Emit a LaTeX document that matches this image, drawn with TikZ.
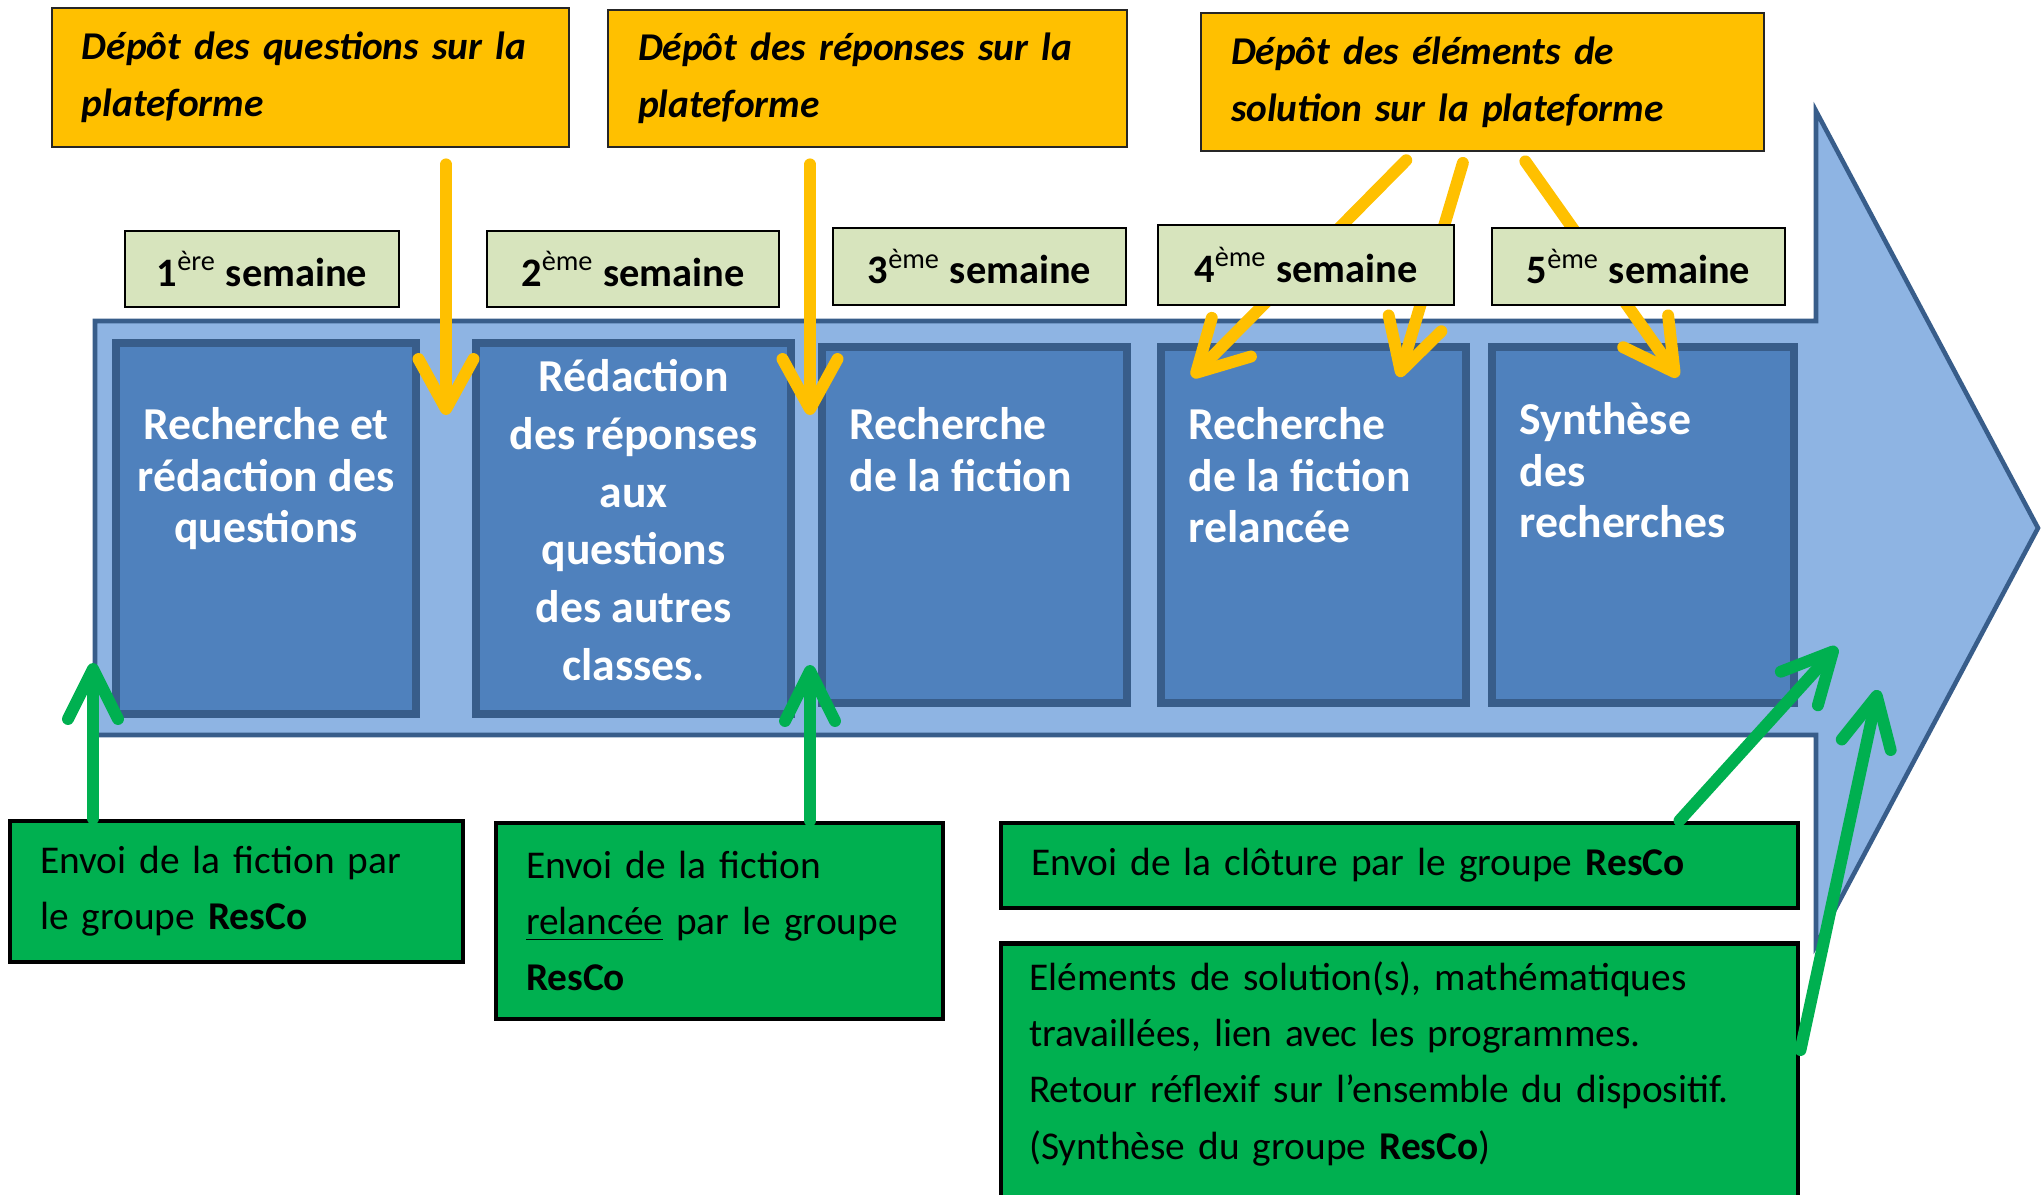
\documentclass[tikz,border=0pt]{standalone}
\usepackage{fontspec}
\setmainfont{Carlito}
\usepackage{xcolor}
\usepackage{tikz}
\usetikzlibrary{arrows.meta, positioning}
\definecolor{depotorange}{RGB}{255, 192, 0}
\definecolor{semgreen}{RGB}{215, 228, 189}
\definecolor{shaftblue}{RGB}{142, 180, 227}
\definecolor{boxblue}{RGB}{79, 129, 189}
\definecolor{edgeblue}{RGB}{56, 93, 138}
\definecolor{envoigreen}{RGB}{0, 176, 80}
\tikzset{
  fleche/.style={fill=shaftblue, draw=edgeblue, line width=1.3pt},
  depot/.style={rectangle, draw=black!85, line width=0.8pt, fill=depotorange,
    inner xsep=0.3cm, inner ysep=0pt, align=left,
    font=\fontsize{11.2}{16.2}\selectfont\bfseries\itshape},
  semaine/.style={rectangle, draw=black, line width=0.8pt, fill=semgreen,
    inner sep=0pt, font=\fontsize{11.5}{14}\selectfont\bfseries},
  etape/.style={rectangle, draw=edgeblue, line width=2.3pt, fill=boxblue,
    inner sep=0pt},
  etapetxt/.style={inner sep=0pt, text=white,
    font=\fontsize{13}{14.6}\selectfont\bfseries},
  envoi/.style={rectangle, draw=black, line width=1.4pt, fill=envoigreen,
    inner xsep=0.3cm, inner ysep=0pt, align=left,
    font=\fontsize{11.2}{16}\selectfont},
  oarrow/.style={-{Straight Barb[round, length=5mm, width=5.5mm]},
    line width=3.4pt, draw=depotorange, line cap=round},
  garrow/.style={-{Straight Barb[round, length=5mm, width=5mm]},
    line width=3.4pt, draw=envoigreen, line cap=round},
}

\begin{document}
\begin{tikzpicture}
  \useasboundingbox (0,0) rectangle (20.43,-11.94);

  % ── Big arrow ──
  \draw[fleche] (0.95,-3.21) -- (18.16,-3.21) -- (18.16,-1.11) -- (20.38,-5.28)
    -- (18.16,-9.45) -- (18.16,-7.35) -- (0.95,-7.35) -- cycle;

  % ── Steps ──
  \node[etape, minimum width=3.00cm, minimum height=3.71cm] (et1) at (2.66,-5.285) {};
  \node[etape, minimum width=3.15cm, minimum height=3.71cm] (et2) at (6.335,-5.285) {};
  \node[etape, minimum width=3.05cm, minimum height=3.56cm] (et3) at (9.745,-5.25) {};
  \node[etape, minimum width=3.05cm, minimum height=3.56cm] (et4) at (13.135,-5.25) {};
  \node[etape, minimum width=3.02cm, minimum height=3.56cm] (et5) at (16.43,-5.25) {};

  \node[etapetxt, align=center, below=0.68cm of et1.north] (txt1) {Recherche et\\rédaction des\\questions};
  \node[etapetxt, align=center, below=0.20cm of et2.north,
    font=\fontsize{13}{16.4}\selectfont\bfseries] (txt2) {Rédaction\\des réponses\\aux\\questions\\des autres\\classes.};
  \node[etapetxt, align=left, below right=0.64cm and 0.31cm of et3.north west] (txt3) {Recherche\\de la fiction};
  \node[etapetxt, align=left, below right=0.64cm and 0.31cm of et4.north west] (txt4) {Recherche\\de la fiction\\relancée};
  \node[etapetxt, align=left, below right=0.59cm and 0.31cm of et5.north west] (txt5) {Synthèse\\des\\recherches};

  % ── Arrow ends ──
  \coordinate (q1) at (4.46,-4.15);
  \coordinate (q2) at (8.10,-4.15);
  \coordinate (q3) at (11.92,-3.77);
  \coordinate (q4) at (13.99,-3.77);
  \coordinate (q5) at (16.78,-3.77);
  \coordinate (up1) at (0.93,-6.63);
  \coordinate (up2) at (8.10,-6.65);
  \coordinate (up3) at (18.37,-6.47);
  \coordinate (up4) at (18.78,-6.90);

  % ── Deposit boxes ──
  \node[depot, text width=4.57cm, minimum height=1.39cm] (depotQ) at (3.105,-0.775) {Dépôt des questions sur la\\plateforme};
  \node[depot, text width=4.59cm, minimum height=1.37cm] (depotR) at (8.675,-0.785) {Dépôt des réponses sur la\\plateforme};
  \node[depot, text width=5.03cm, minimum height=1.38cm] (depotS) at (14.825,-0.82) {Dépôt des éléments de\\solution sur la plateforme};

  % ── Orange arrows ──
  \draw[oarrow, shorten <=1.6mm] (depotQ.south -| q1) -- (q1);
  \draw[oarrow, shorten <=1.6mm] (depotR.south -| q2) -- (q2);
  \draw[oarrow, shorten <=1.1mm] ([xshift=-6.85mm]depotS.south) -- (q3);
  \draw[oarrow, shorten <=1.1mm] ([xshift=-1.65mm]depotS.south) -- (q4);
  \draw[oarrow, shorten <=1.1mm] ([xshift=3.65mm]depotS.south) -- (q5);

  % ── Weeks ──
  \node[semaine, minimum width=2.74cm, minimum height=0.76cm] (sem1) at (2.62,-2.69) {1\textsuperscript{\mdseries ère} semaine};
  \node[semaine, minimum width=2.92cm, minimum height=0.76cm] (sem2) at (6.33,-2.69) {2\textsuperscript{\mdseries ème} semaine};
  \node[semaine, minimum width=2.93cm, minimum height=0.77cm] (sem3) at (9.795,-2.665) {3\textsuperscript{\mdseries ème} semaine};
  \node[semaine, minimum width=2.96cm, minimum height=0.80cm] (sem4) at (13.06,-2.65) {4\textsuperscript{\mdseries ème} semaine};
  \node[semaine, minimum width=2.93cm, minimum height=0.77cm] (sem5) at (16.385,-2.665) {5\textsuperscript{\mdseries ème} semaine};

  % ── ResCo boxes ──
  \node[envoi, text width=3.93cm, minimum height=1.41cm] (envoi1) at (2.365,-8.915) {Envoi de la fiction par\\le groupe \textbf{ResCo}};
  \node[envoi, text width=3.87cm, minimum height=1.96cm] (envoi2) at (7.195,-9.21) {Envoi de la fiction\\\underline{relancée} par le groupe\\\textbf{ResCo}};
  \node[envoi, text width=7.37cm, minimum height=0.85cm] (envoi3) at (13.995,-8.655) {Envoi de la clôture par le groupe \textbf{ResCo}};
  \node[envoi, minimum width=7.97cm, minimum height=3.0cm, anchor=north] (envoi4) at (13.995,-9.41) {};
  \node[inner sep=0pt, text width=7.37cm, align=left, font=\fontsize{11.2}{16}\selectfont,
    below right=0.20cm and 0.30cm of envoi4.north west] (synth) {Eléments de solution(s), mathématiques\\travaillées, lien avec les programmes.\\Retour réflexif sur l’ensemble du dispositif.\\(Synthèse du groupe \textbf{ResCo})};

  % ── Green arrows ──
  \draw[garrow] (envoi1.north -| up1) -- (up1);
  \draw[garrow] (envoi2.north -| up2) -- (up2);
  \draw[garrow] ([xshift=2.80cm]envoi3.north) -- (up3);
  \draw[garrow] ([yshift=-1.09cm]envoi4.north east) -- (up4);

\end{tikzpicture}
\end{document}
